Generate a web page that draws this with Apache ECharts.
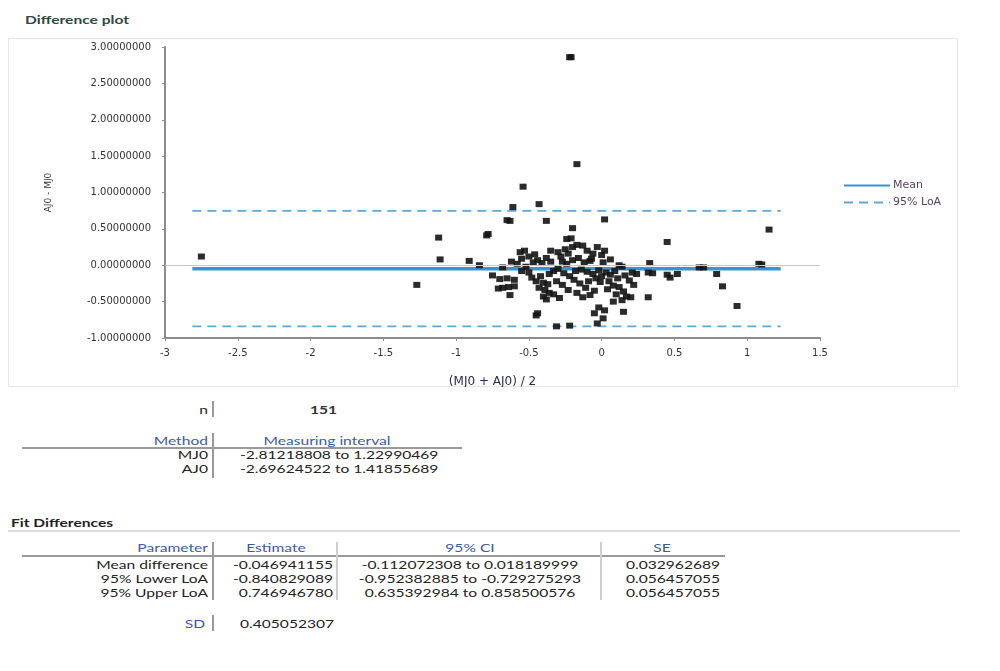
<!DOCTYPE html>
<html>
<head>
<meta charset="utf-8">
<script src="https://cdn.jsdelivr.net/npm/echarts@6/dist/echarts.min.js"></script>
<style>
  body { margin:0; background:#fff; font-family: Lato, "Open Sans", sans-serif; color:#222; }
  #page { position:relative; width:1000px; height:671px; overflow:hidden; }
  #frame { position:absolute; left:8px; top:38px; width:950px; height:349px; border:1px solid #e6e6e6; box-sizing:border-box; }
  #main { position:absolute; left:8px; top:38px; width:950px; height:349px; }
  .t { position:absolute; font-size:12px; white-space:nowrap; line-height:14px; transform:scaleX(1.3); transform-origin:left center; }
  .r { text-align:right; transform-origin:right center; }
  .c { text-align:center; transform-origin:center center; }
  .hd { color:#3b5ba5; }
  .vb { position:absolute; width:2px; background:#9a9a9a; }
  .hb { position:absolute; height:2px; background:#9a9a9a; }
</style>
</head>
<body>
<div id="page">
  <div class="t" style="left:25px;top:13px;color:#2d4a3c;font-weight:bold;">Difference plot</div>
  <div id="frame"></div>
  <div id="main"></div>

  <!-- n -->
  <div class="t r" style="left:150px;width:58px;top:403px;">n</div>
  <div class="vb" style="left:212px;top:401px;height:16px;"></div>
  <div class="t" style="left:310px;top:403px;font-weight:bold;color:#333;">151</div>

  <!-- measuring interval -->
  <div class="t r hd" style="left:100px;width:108px;top:434px;">Method</div>
  <div class="t c hd" style="left:227px;width:200px;top:434px;">Measuring interval</div>
  <div class="hb" style="left:22px;top:447px;width:440px;"></div>
  <div class="vb" style="left:212px;top:433px;height:45px;"></div>
  <div class="t r" style="left:100px;width:108px;top:448px;">MJ0</div>
  <div class="t r" style="left:100px;width:108px;top:462px;">AJ0</div>
  <div class="t" style="left:240px;top:448px;">-2.81218808 to 1.22990469</div>
  <div class="t" style="left:240px;top:462px;">-2.69624522 to 1.41855689</div>

  <!-- fit differences -->
  <div class="t" style="left:11px;top:516px;font-weight:bold;">Fit Differences</div>
  <div class="hb" style="left:8px;top:530px;width:952px;background:#dcdcdc;"></div>
  <div class="t r hd" style="left:60px;width:148px;top:541px;">Parameter</div>
  <div class="t c hd" style="left:221px;width:110px;top:541px;">Estimate</div>
  <div class="t c hd" style="left:340px;width:260px;top:541px;">95% CI</div>
  <div class="t c hd" style="left:602px;width:120px;top:541px;">SE</div>
  <div class="hb" style="left:22px;top:555px;width:703px;"></div>
  <div class="vb" style="left:212px;top:542px;height:58px;"></div>
  <div class="vb" style="left:336px;top:542px;height:58px;background:#cfcfcf;"></div>
  <div class="vb" style="left:600px;top:542px;height:58px;background:#cfcfcf;"></div>
  <div class="t r" style="left:60px;width:148px;top:558px;">Mean difference</div>
  <div class="t r" style="left:60px;width:148px;top:572px;">95% Lower LoA</div>
  <div class="t r" style="left:60px;width:148px;top:586px;">95% Upper LoA</div>
  <div class="t r" style="left:220px;width:113px;top:558px;">-0.046941155</div>
  <div class="t r" style="left:220px;width:113px;top:572px;">-0.840829089</div>
  <div class="t r" style="left:220px;width:113px;top:586px;">0.746946780</div>
  <div class="t c" style="left:340px;width:260px;top:558px;">-0.112072308 to 0.018189999</div>
  <div class="t c" style="left:340px;width:260px;top:572px;">-0.952382885 to -0.729275293</div>
  <div class="t c" style="left:340px;width:260px;top:586px;">0.635392984 to 0.858500576</div>
  <div class="t c" style="left:613px;width:120px;top:558px;">0.032962689</div>
  <div class="t c" style="left:613px;width:120px;top:572px;">0.056457055</div>
  <div class="t c" style="left:613px;width:120px;top:586px;">0.056457055</div>
  <div class="t r hd" style="left:150px;width:55px;top:617px;">SD</div>
  <div class="vb" style="left:212px;top:615px;height:16px;"></div>
  <div class="t" style="left:240px;top:617px;">0.405052307</div>
</div>
<script>
// averages (MJ0 + AJ0) / 2 and differences AJ0 - MJ0
var avgValues = [
  -2.75, -1.27, -1.12, -1.11, -0.91, -0.84, -0.79, -0.78, -0.75, -0.71,
  -0.22, -0.21, -0.17, -0.54, -0.61, -0.43, -0.65, -0.63, -0.38, 0.02,
  -0.20, -0.24, -0.21, 0.45, 1.15, 1.10, 1.08, 0.67, 0.70, 0.79,
  0.83, 0.93, 0.33, 0.21, 0.32, 0.35, 0.45, 0.47, 0.52, 0.20,
  0.32, 0.15, -0.45, -0.31, -0.22, -0.05, 0.01, -0.03, 0.14, 0.12,
  -0.68, -0.70, -0.65, -0.60, -0.68, -0.64, -0.60, -0.63, -0.56, -0.53,
  -0.55, -0.50, -0.47, -0.44, -0.41, -0.58, -0.52, -0.48, -0.45, -0.42,
  -0.40, -0.37, -0.43, -0.39, -0.36, -0.40, -0.38, -0.44, -0.55, -0.50,
  -0.46, -0.38, -0.35, -0.33, -0.36, -0.30, -0.28, -0.25, -0.23, -0.20,
  -0.17, -0.13, -0.10, -0.06, -0.03, 0.00, 0.01, -0.27, -0.24, -0.20,
  -0.16, -0.12, -0.08, -0.30, -0.26, -0.22, -0.18, -0.14, -0.10, -0.06,
  -0.02, -0.31, -0.27, -0.23, -0.19, -0.15, -0.11, -0.08, -0.05, -0.13,
  -0.33, -0.29, -0.04, -0.01, 0.03, 0.06, 0.09, 0.11, 0.05, 0.08,
  0.12, 0.15, 0.10, 0.17, 0.14, 0.04, 0.02, 0.06, 0.16, 0.19,
  0.22, 0.24, -0.02, 0.02, 0.08, -0.07, -0.35, -0.62, -0.09, 0.00,
  -0.17
];
var diffValues = [
  0.12, -0.27, 0.38, 0.08, 0.06, 0.00, 0.41, 0.43, -0.14, -0.32,
  2.86, 2.86, 1.39, 1.08, 0.80, 0.84, 0.62, 0.61, 0.61, 0.63,
  0.51, 0.36, 0.37, 0.32, 0.49, 0.01, 0.02, -0.03, -0.03, -0.12,
  -0.29, -0.56, 0.03, -0.10, -0.10, -0.11, -0.13, -0.17, -0.12, -0.44,
  -0.44, -0.64, -0.69, -0.84, -0.83, -0.66, -0.73, -0.80, -0.02, 0.00,
  -0.03, -0.19, -0.18, -0.20, -0.31, -0.30, -0.29, -0.41, 0.18, 0.20,
  0.09, 0.12, 0.04, 0.07, 0.03, 0.02, -0.02, -0.17, -0.22, -0.15,
  -0.24, -0.26, -0.31, -0.34, -0.38, -0.43, -0.47, -0.66, -0.08, -0.10,
  0.15, 0.10, 0.05, -0.08, -0.12, 0.18, 0.12, 0.22, 0.16, 0.25,
  0.28, 0.27, 0.20, 0.16, 0.25, 0.14, 0.04, 0.05, 0.02, 0.07,
  0.10, 0.04, 0.06, -0.05, -0.11, -0.15, -0.08, -0.06, -0.09, -0.12,
  -0.07, -0.22, -0.27, -0.34, -0.20, -0.25, -0.31, -0.41, -0.35, -0.44,
  -0.40, -0.45, -0.18, -0.23, -0.10, -0.13, -0.08, -0.18, -0.22, -0.28,
  -0.30, -0.36, -0.40, -0.43, -0.48, -0.33, 0.20, 0.08, -0.14, -0.21,
  -0.27, -0.12, -0.58, -0.62, -0.50, 0.09, 0.20, 0.05, -0.22, -0.15,
  -0.38
];
var meanDiff = -0.046941155;
var lowerLoA = -0.840829089;
var upperLoA = 0.746946780;
// lines run over the MJ0 measuring interval
var lineXStart = -2.81218808;
var lineXEnd = 1.22990469;

var myChart = echarts.init(document.getElementById('main'));

var points = [];
for (var i = 0; i < avgValues.length; i++) {
  points.push([avgValues[i], diffValues[i]]);
}

var labelFont = '"DejaVu Sans", sans-serif';
var loaStyle = { color: '#5fa8d9', width: 1.6, type: [9, 6] };

var option = {
  animation: false,
  grid: { left: 157, right: 138, top: 9, bottom: 49, outerBoundsMode: 'none' },
  legend: {
    data: ['Mean', '95% LoA'],
    orient: 'vertical',
    left: 830,
    top: 137,
    itemWidth: 46,
    itemHeight: 10,
    itemGap: 6,
    itemStyle: { opacity: 0 },
    textStyle: { fontSize: 11, color: '#5a3f5a', fontFamily: labelFont, padding: [0, 0, 0, -2] }
  },
  xAxis: {
    type: 'value',
    min: -3, max: 1.5, interval: 0.5,
    name: '(MJ0 + AJ0) / 2',
    nameLocation: 'middle',
    nameGap: 38,
    nameTextStyle: { fontSize: 12, color: '#2a2a5a', fontFamily: labelFont },
    axisLine: { onZero: false, lineStyle: { color: '#8c8c8c', width: 2 } },
    axisTick: { length: 3, lineStyle: { color: '#8c8c8c' } },
    axisLabel: { fontSize: 10, color: '#333', margin: 10, fontFamily: labelFont },
    splitLine: { show: false }
  },
  yAxis: {
    type: 'value',
    min: -1, max: 3, interval: 0.5,
    name: 'AJ0 - MJ0',
    nameLocation: 'middle',
    nameGap: 112,
    nameTextStyle: { fontSize: 9, color: '#333', fontFamily: labelFont },
    axisLine: { show: true, onZero: false, lineStyle: { color: '#8c8c8c', width: 2 } },
    axisTick: { show: true, length: 3, lineStyle: { color: '#8c8c8c' } },
    axisLabel: {
      fontSize: 10, color: '#333', margin: 14, fontFamily: labelFont,
      formatter: function (v) { return v.toFixed(8); }
    },
    splitLine: { show: false }
  },
  series: [
    {
      name: 'points',
      type: 'scatter',
      symbol: 'rect',
      symbolSize: [7, 6],
      itemStyle: { color: '#141414', opacity: 0.9 },
      data: points,
      markLine: {
        silent: true,
        symbol: 'none',
        label: { show: false },
        lineStyle: { color: '#c8c8c8', width: 1, type: 'solid' },
        data: [{ yAxis: 0 }]
      },
      z: 3
    },
    {
      name: 'Mean',
      type: 'line',
      symbol: 'none',
      lineStyle: { color: '#3d93d1', width: 3.5 },
      itemStyle: { color: '#3d93d1' },
      data: [[lineXStart, meanDiff], [lineXEnd, meanDiff]],
      z: 2
    },
    {
      name: '95% LoA',
      type: 'line',
      symbol: 'none',
      lineStyle: loaStyle,
      itemStyle: { color: '#5fa8d9' },
      data: [[lineXStart, upperLoA], [lineXEnd, upperLoA]],
      z: 2
    },
    {
      name: '95% LoA',
      type: 'line',
      symbol: 'none',
      lineStyle: loaStyle,
      itemStyle: { color: '#5fa8d9' },
      data: [[lineXStart, lowerLoA], [lineXEnd, lowerLoA]],
      z: 2
    }
  ]
};

myChart.setOption(option);
</script>
</body>
</html>
